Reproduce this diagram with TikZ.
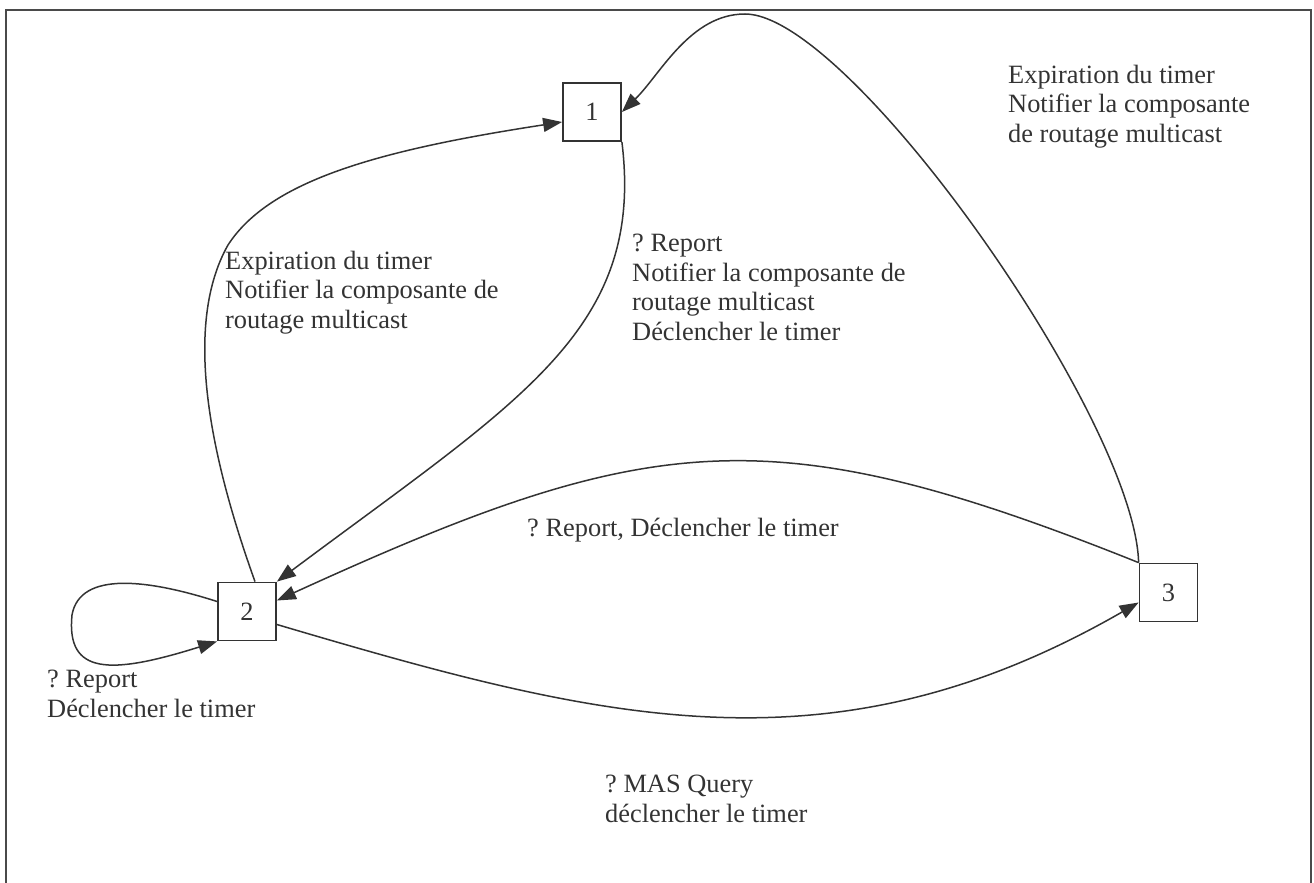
\documentclass[tikz,border=0pt]{standalone}
\usepackage{fontspec}
\setmainfont{Liberation Serif}
\usetikzlibrary{arrows.meta,calc}
\definecolor{ink}{HTML}{333333}
\definecolor{framegray}{HTML}{4A4A4A}
\frenchspacing
\begin{document}
\begin{tikzpicture}[x=1pt,y=-1pt,
  every node/.style={text=ink},
  state/.style={draw=ink,line width=1.8pt,minimum size=58pt,inner sep=0pt,
    font=\fontsize{26.4}{29.5}\selectfont},
  label/.style={anchor=base west,inner sep=0pt,align=left,
    font=\fontsize{26.4}{29.5}\selectfont},
  trans/.style={draw=ink,line width=1.5pt,-{Triangle[length=19pt,width=14pt]}}]
  \useasboundingbox (0,0) rectangle (1314,883);
  % open frame around the diagram
  \draw[framegray,line width=2.6pt] (6,890) -- (6,10) -- (1311,10) -- (1311,890);

  % states
  \node[state] (n1) at (592,112) {1};
  \node[state] (n2) at (247,611.5) {2};
  \node[state] (n3) at (1168.5,592.5) {3};

  % transitions
  \draw[trans] ($(n2.north)+(8,0)$) .. controls (215,470) and (180,330) .. (228,245)
     .. controls (270,180) and (380,150) .. ($(n1.west)+(0,10)$);
  \draw[trans] (n1.south east) .. controls (645,330) and (520,400) .. (n2.north east);
  \draw[trans] (n3.north west) .. controls (1135,420) and (850,14) .. (745,14)
     .. controls (690,14) and (660,75) .. (n1.east);
  \draw[trans] (n3.north west) .. controls (770,415) and (650,430) .. ($(n2.east)+(0,-11)$);
  \draw[trans] ($(n2.east)+(0,13)$) .. controls (600,720) and (830,780) .. ($(n3.west)+(0,10)$);
  \draw[trans] ($(n2.west)+(0,-10)$) .. controls (150,580) and (80,570) .. (72,615)
     .. controls (66,675) and (110,675) .. (n2.south west);

  % transition labels (base = baseline of the last line)
  \node[label] (l21) at (225,328) {Expiration du timer\\Notifier la composante de\\routage multicast};
  \node[label] (l12) at (632,340) {? Report\\Notifier la composante de\\routage multicast\\Déclencher le timer};
  \node[label] (l31) at (1008,142) {Expiration du timer\\Notifier la composante\\de routage multicast};
  \node[label] (l32) at (527,536) {? Report, Déclencher le timer};
  \node[label] (l23) at (605,822) {? MAS Query\\déclencher le timer};
  \node[label] (l22) at (47,717) {? Report\\Déclencher le timer};
\end{tikzpicture}
\end{document}
